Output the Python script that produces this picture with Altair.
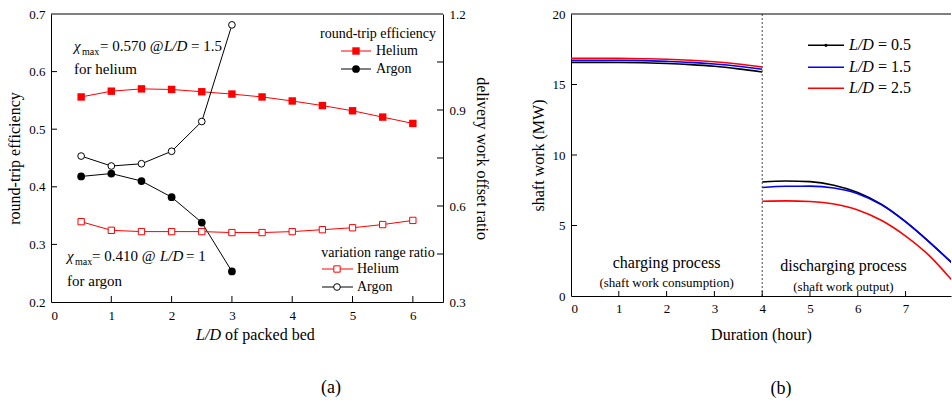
import altair as alt
import pandas as pd

FONT = "Liberation Serif"
RED = "#ff0000"
BLUE = "#0000ff"
BLACK = "#000000"

# ---------------- data: panel (a) ----------------
ld_he = [0.5, 1.0, 1.5, 2.0, 2.5, 3.0, 3.5, 4.0, 4.5, 5.0, 5.5, 6.0]
rte_he = [0.556, 0.566, 0.570, 0.569, 0.565, 0.561, 0.556, 0.549, 0.541, 0.532, 0.521, 0.510]
vr_he = [0.551, 0.524, 0.520, 0.520, 0.520, 0.517, 0.517, 0.520, 0.526, 0.532, 0.542, 0.555]
ld_ar = [0.5, 1.0, 1.5, 2.0, 2.5, 3.0]
rte_ar = [0.418, 0.423, 0.410, 0.382, 0.338, 0.253]
vr_ar = [0.756, 0.725, 0.732, 0.771, 0.864, 1.166]

x_ticks_a = [0, 1, 2, 3, 4, 5, 6]
y_ticks_left = [0.2, 0.3, 0.4, 0.5, 0.6, 0.7]
y_ticks_right = [0.3, 0.6, 0.9, 1.2]
y_minor_right = [0.45, 0.6, 0.75, 0.9, 1.05]

# ---------------- data: panel (b) ----------------
t_chg = [0, 0.5, 1, 1.5, 2, 2.5, 3, 3.5, 4]
w_chg_05 = [16.57, 16.57, 16.56, 16.54, 16.49, 16.41, 16.29, 16.11, 15.89]
w_chg_15 = [16.72, 16.72, 16.71, 16.69, 16.64, 16.57, 16.45, 16.29, 16.08]
w_chg_25 = [16.86, 16.86, 16.85, 16.83, 16.79, 16.72, 16.61, 16.45, 16.24]
t_dis = [4, 4.5, 5, 5.5, 6, 6.5, 7, 7.5, 8]
w_dis_05 = [8.09, 8.16, 8.11, 7.86, 7.34, 6.49, 5.27, 3.82, 2.24]
w_dis_15 = [7.70, 7.78, 7.79, 7.66, 7.26, 6.46, 5.26, 3.81, 2.26]
w_dis_25 = [6.72, 6.75, 6.70, 6.52, 6.10, 5.35, 4.25, 2.85, 1.00]
series_b = ["L/D = 0.5", "L/D = 1.5", "L/D = 2.5"]
x_ticks_b = [0, 1, 2, 3, 4, 5, 6, 7]
y_ticks_b = [0, 5, 10, 15, 20]

WA, HA = 392, 288
WB, HB = 380, 282

# ---------------- panel (a) ----------------
xA = alt.X("x:Q", scale=alt.Scale(domain=[0, 6.5], nice=False),
           axis=alt.Axis(values=x_ticks_a, format="d", ticks=False, labelPadding=7,
                         title=None, grid=False, domain=True))
yL = alt.Y("y:Q", scale=alt.Scale(domain=[0.2, 0.7], nice=False, zero=False),
           axis=alt.Axis(values=y_ticks_left, format=".1f", ticks=False, labelPadding=6,
                         title="round-trip efficiency", titlePadding=6, grid=False, domain=True))
yR = alt.Y("y:Q", scale=alt.Scale(domain=[0.3, 1.2], nice=False, zero=False),
           axis=alt.Axis(values=y_ticks_right, format=".1f", ticks=False, labelPadding=6, orient="right",
                         title="delivery work offset ratio", titleAngle=90, titlePadding=8,
                         grid=False, domain=True))

he_rte = pd.DataFrame({"x": ld_he, "y": rte_he})
ar_rte = pd.DataFrame({"x": ld_ar, "y": rte_ar})
he_vr = pd.DataFrame({"x": ld_he, "y": vr_he})
ar_vr = pd.DataFrame({"x": ld_ar, "y": vr_ar})
dummy = pd.DataFrame({"d": [0]})


def ptext(text, px, py, size=14, style="normal", align="left", baseline="middle"):
    return alt.Chart(dummy).mark_text(text=text, font=FONT, fontSize=size, fontStyle=style,
                                      align=align, baseline=baseline, color=BLACK).encode(
        x=alt.value(px), y=alt.value(py))


def dtext(df, xenc, yenc, text, dx=0, dy=0, size=15, style="normal", align="left", baseline="alphabetic"):
    return alt.Chart(df).mark_text(text=text, font=FONT, fontSize=size, fontStyle=style, dx=dx, dy=dy,
                                   align=align, baseline=baseline, color=BLACK).encode(x=xenc, y=yenc)


def legend_row(px1, px2, pm, py, shape, filled, color, label, tx, size):
    line = alt.Chart(dummy).mark_rule(color=color, strokeWidth=1).encode(
        x=alt.value(px1), x2=alt.value(px2), y=alt.value(py))
    if filled:
        pt = alt.Chart(dummy).mark_point(shape=shape, filled=True, size=size, color=color, opacity=1).encode(
            x=alt.value(pm), y=alt.value(py))
    else:
        pt = alt.Chart(dummy).mark_point(shape=shape, filled=True, fill="white", stroke=color, strokeWidth=1,
                                         size=size, opacity=1).encode(x=alt.value(pm), y=alt.value(py))
    return [line, pt, ptext(label, tx, py, 14)]


left_layers = [
    alt.Chart(he_rte).mark_line(color=RED, strokeWidth=1).encode(x=xA, y=yL),
    alt.Chart(he_rte).mark_point(shape="square", filled=True, size=55, color=RED, opacity=1).encode(x=xA, y=yL),
    alt.Chart(ar_rte).mark_line(color=BLACK, strokeWidth=1).encode(x=xA, y=yL),
    alt.Chart(ar_rte).mark_point(shape="circle", filled=True, size=60, color=BLACK, opacity=1).encode(x=xA, y=yL),
    # inward ticks
    alt.Chart(pd.DataFrame({"y": y_ticks_left[1:-1]})).mark_rule(color=BLACK).encode(
        y=yL, x=alt.value(0), x2=alt.value(6)),
    alt.Chart(pd.DataFrame({"x": x_ticks_a[1:]})).mark_rule(color=BLACK).encode(
        x=xA, y=alt.value(HA), y2=alt.value(HA - 6)),
    # top border
    alt.Chart(dummy).mark_rule(color=BLACK).encode(x=alt.value(0), x2=alt.value(WA), y=alt.value(0)),
]

ann_he = pd.DataFrame({"x": [0.381], "y": [0.635]})
ann_he2 = pd.DataFrame({"x": [0.381], "y": [0.5955]})
ann_ar = pd.DataFrame({"x": [0.265], "y": [0.271]})
ann_ar2 = pd.DataFrame({"x": [0.265], "y": [0.2277]})
left_layers += [
    dtext(ann_he, xA, yL, "χ", 0, 0, 15, "italic"),
    dtext(ann_he, xA, yL, "max", 8, 4, 10),
    dtext(ann_he, xA, yL, "= 0.570 @", 26, 0, 15),
    dtext(ann_he, xA, yL, "L/D", 90, 0, 15, "italic"),
    dtext(ann_he, xA, yL, "= 1.5", 117, 0, 15),
    dtext(ann_he2, xA, yL, "for helium", 0, 0, 15),
    dtext(ann_ar, xA, yL, "χ", 0, 0, 15, "italic"),
    dtext(ann_ar, xA, yL, "max", 8, 4, 10),
    dtext(ann_ar, xA, yL, "= 0.410 @", 25, 0, 15),
    dtext(ann_ar, xA, yL, "L/D", 93, 0, 15, "italic"),
    dtext(ann_ar, xA, yL, "= 1", 119, 0, 15),
    dtext(ann_ar2, xA, yL, "for argon", 0, 0, 15),
]
# legends
left_layers += [ptext("round-trip efficiency", 327, 20, 14, align="center")]
left_layers += legend_row(290, 320, 305, 37, "square", True, RED, "Helium", 325, 55)
left_layers += legend_row(290, 320, 305, 55, "circle", True, BLACK, "Argon", 325, 60)
left_layers += [ptext("variation range ratio", 327, 239, 14, align="center")]
left_layers += legend_row(271, 302, 286, 255, "square", False, RED, "Helium", 306, 40)
left_layers += legend_row(271, 302, 286, 273, "circle", False, BLACK, "Argon", 306, 45)
# axis title and caption
left_layers += [
    ptext("L/D", 170, 321, 16, "italic", align="right"),
    ptext("of packed bed", 174, 321, 16),
    ptext("(a)", 280, 374, 18, align="center"),
]

right_layers = [
    alt.Chart(he_vr).mark_line(color=RED, strokeWidth=1).encode(x=xA, y=yR),
    alt.Chart(he_vr).mark_point(shape="square", filled=True, fill="white", stroke=RED, strokeWidth=1,
                                size=40, opacity=1).encode(x=xA, y=yR),
    alt.Chart(ar_vr).mark_line(color=BLACK, strokeWidth=1).encode(x=xA, y=yR),
    alt.Chart(ar_vr).mark_point(shape="circle", filled=True, fill="white", stroke=BLACK, strokeWidth=1,
                                size=45, opacity=1).encode(x=xA, y=yR),
    alt.Chart(pd.DataFrame({"y": y_minor_right})).mark_rule(color=BLACK).encode(
        y=yR, x=alt.value(WA), x2=alt.value(WA - 6)),
]

panel_a = alt.layer(alt.layer(*left_layers), alt.layer(*right_layers)).resolve_scale(
    y="independent").properties(width=WA, height=HA)

# ---------------- panel (b) ----------------
xB = alt.X("t:Q", scale=alt.Scale(domain=[0, 7.95], nice=False),
           axis=alt.Axis(values=x_ticks_b, format="d", ticks=False, labelPadding=6,
                         title="Duration (hour)", titlePadding=11, grid=False, domain=True))
yB = alt.Y("w:Q", scale=alt.Scale(domain=[0, 20], nice=False),
           axis=alt.Axis(values=y_ticks_b, format="d", ticks=False, labelPadding=6,
                         title="shaft work (MW)", titlePadding=6, grid=False, domain=True))

colors_b = [BLACK, BLUE, RED]
chg = [w_chg_05, w_chg_15, w_chg_25]
dis = [w_dis_05, w_dis_15, w_dis_25]
b_layers = []
for name, col, wc, wd in zip(series_b, colors_b, chg, dis):
    dfc = pd.DataFrame({"t": t_chg, "w": wc})
    dfd = pd.DataFrame({"t": t_dis, "w": wd})
    b_layers.append(alt.Chart(dfc).mark_line(color=col, strokeWidth=1.6, interpolate="monotone",
                                             clip=True).encode(x=xB, y=yB))
    b_layers.append(alt.Chart(dfd).mark_line(color=col, strokeWidth=1.6, interpolate="monotone",
                                             clip=True).encode(x=xB, y=yB))

b_layers += [
    alt.Chart(pd.DataFrame({"t": [4]})).mark_rule(color="#444444", strokeDash=[2, 2], strokeWidth=1).encode(
        x=xB, y=alt.value(0), y2=alt.value(HB)),
    alt.Chart(pd.DataFrame({"w": y_ticks_b[1:-1]})).mark_rule(color=BLACK).encode(
        y=yB, x=alt.value(0), x2=alt.value(6)),
    alt.Chart(pd.DataFrame({"t": x_ticks_b[1:]})).mark_rule(color=BLACK).encode(
        x=xB, y=alt.value(HB), y2=alt.value(HB - 5)),
    alt.Chart(dummy).mark_rule(color=BLACK).encode(x=alt.value(0), x2=alt.value(WB), y=alt.value(0)),
]

pc = pd.DataFrame({"t": [2.0], "w": [2.32]})
pc2 = pd.DataFrame({"t": [2.0], "w": [0.9]})
pdis = pd.DataFrame({"t": [5.7], "w": [2.11]})
pdis2 = pd.DataFrame({"t": [5.7], "w": [0.62]})
b_layers += [
    dtext(pc, xB, yB, "charging process", 0, 0, 16, align="center", baseline="middle"),
    dtext(pc2, xB, yB, "(shaft work consumption)", 0, 0, 13, align="center", baseline="middle"),
    dtext(pdis, xB, yB, "discharging process", 0, 0, 16, align="center", baseline="middle"),
    dtext(pdis2, xB, yB, "(shaft work output)", 0, 0, 13, align="center", baseline="middle"),
]
# legend
for i, (name, col) in enumerate(zip(series_b, colors_b)):
    py = [31.3, 53.3, 74.3][i]
    b_layers.append(alt.Chart(dummy).mark_rule(color=col, strokeWidth=1.6).encode(
        x=alt.value(237), x2=alt.value(273), y=alt.value(py)))
    b_layers.append(ptext("L/D", 278, py, 16, "italic"))
    b_layers.append(ptext(name.split("L/D ")[1], 307, py, 16))
b_layers.append(alt.Chart(dummy).mark_point(shape="circle", filled=True, size=10, color=BLACK, opacity=1).encode(
    x=alt.value(255), y=alt.value(31.3)))
b_layers.append(ptext("(b)", 210, 375, 18, align="center"))

panel_b = alt.layer(*b_layers).properties(width=WB, height=HB)

chart = alt.hconcat(panel_a, panel_b, spacing=39).properties(
    padding={"left": 6, "top": 7, "right": 0, "bottom": 0},
    background="white",
).configure_view(stroke="transparent").configure_axis(
    labelFont=FONT, labelFontSize=13, labelColor=BLACK,
    titleFont=FONT, titleFontSize=16, titleFontWeight="normal", titleColor=BLACK,
    domainColor=BLACK, domainWidth=1,
)

chart.save("out.html", embed_options={"renderer": "svg", "actions": False})
